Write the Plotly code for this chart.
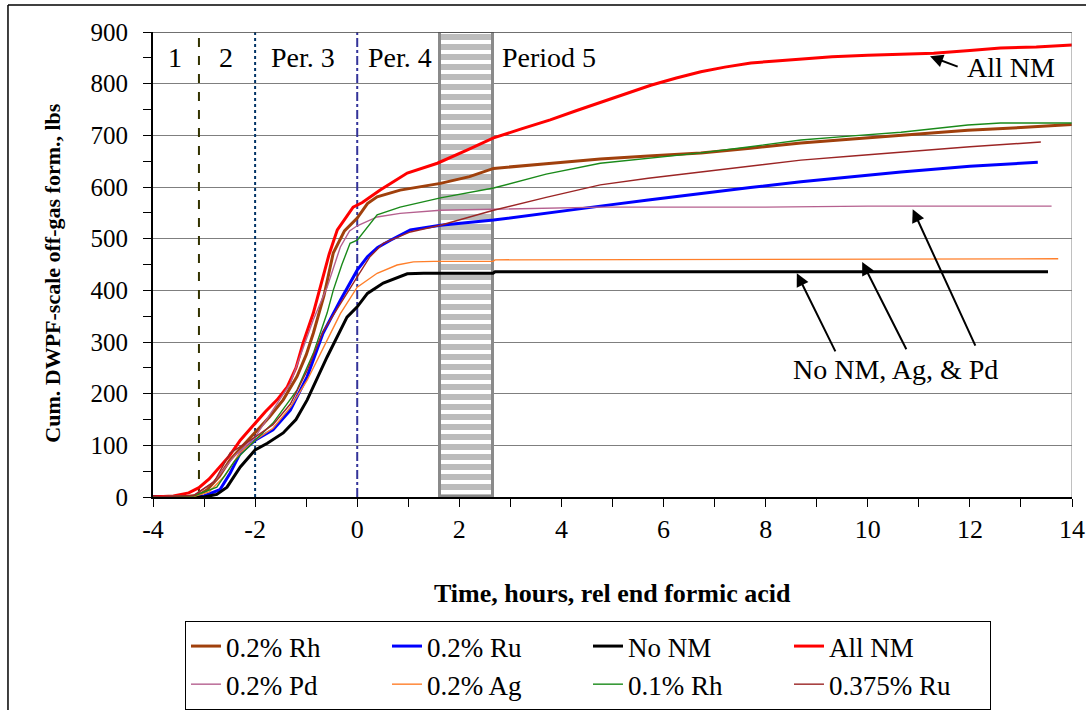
import plotly.graph_objects as go

# ---------------- data ----------------
t_allnm = [-4.0, -3.6, -3.3, -3.1, -2.9, -2.69, -2.5, -2.29, -2.0, -1.8, -1.57, -1.37, -1.2, -1.06, -0.86, -0.73,
           -0.55, -0.39, -0.2, -0.08, 0.1, 0.45, 0.98, 1.57, 2.16, 2.67, 3.2, 3.78, 4.3, 4.76, 5.25, 5.75, 6.25,
           6.73, 7.2, 7.71, 8.2, 8.69, 9.3, 10.0, 10.6, 11.29, 12.0, 12.6, 13.3, 14.0]
y_allnm = [0, 2, 8, 18, 35, 58, 80, 110, 143, 165, 188, 213, 250, 298, 356, 406,
           470, 517, 545, 561, 570, 594, 627, 646, 672, 695, 712, 730, 748, 764, 781, 797, 811,
           823, 832, 840, 844, 848, 852, 855, 857, 859, 864, 869, 871, 875]

t_rh02 = [-4.0, -3.41, -3.1, -2.94, -2.7, -2.49, -2.25, -2.0, -1.72, -1.45, -1.18, -1.0, -0.86, -0.65, -0.47,
          -0.25, 0.0, 0.2, 0.39, 0.84, 1.63, 2.2, 2.67, 3.7, 4.76, 5.7, 6.73, 7.7, 8.69, 9.7, 10.65, 11.96, 13.0, 14.0]
y_rh02 = [0, 0, 4, 14, 40, 72, 98, 124, 155, 188, 233, 275, 317, 390, 472,
          515, 540, 568, 581, 594, 607, 620, 636, 645, 654, 660, 666, 675, 685, 693, 700, 710, 715, 721]

t_ru02 = [-4.0, -3.3, -3.0, -2.69, -2.49, -2.29, -2.0, -1.65, -1.31, -0.98, -0.67, -0.33, 0.0, 0.2, 0.4, 0.65,
          1.04, 1.63, 2.67, 3.7, 4.76, 5.7, 6.73, 7.7, 8.69, 9.7, 10.65, 12.0, 13.33]
y_ru02 = [0, 0, 2, 14, 46, 85, 110, 130, 168, 233, 317, 381, 439, 465, 483, 497,
          517, 526, 536, 550, 563, 575, 588, 599, 610, 620, 629, 640, 648]

t_nonm = [-4.0, -3.0, -2.75, -2.55, -2.29, -2.0, -1.76, -1.45, -1.2, -0.98, -0.59, -0.2, 0.0, 0.2, 0.51, 0.98,
          1.3, 2.66, 2.7, 13.53]
y_nonm = [0, 0, 5, 19, 58, 91, 104, 124, 150, 188, 271, 348, 368, 394, 414, 432,
          433, 433, 436, 436]

t_pd02 = [-4.0, -3.2, -2.8, -2.4, -2.0, -1.65, -1.31, -0.86, -0.59, -0.33, -0.15, 0.0, 0.39, 0.84, 1.63, 2.67,
          4.76, 8.0, 10.0, 13.6]
y_pd02 = [0, 3, 30, 80, 116, 168, 220, 343, 406, 484, 515, 525, 542, 549, 555, 557,
          561, 561, 563, 563]

t_ag02 = [-4.0, -3.2, -2.9, -2.6, -2.3, -2.0, -1.65, -1.3, -0.98, -0.66, -0.33, 0.0, 0.39, 0.78, 1.1, 1.5,
          2.66, 2.7, 13.73]
y_ag02 = [0, 1, 10, 40, 85, 110, 133, 175, 226, 290, 355, 406, 433, 449, 455, 456,
          456, 459, 461]

t_rh01 = [-4.0, -3.2, -2.75, -2.4, -2.0, -1.65, -1.18, -0.86, -0.59, -0.47, -0.3, -0.14, 0.0, 0.2, 0.39, 0.84,
          1.63, 2.67, 3.7, 4.76, 5.7, 6.73, 7.7, 8.69, 9.7, 10.65, 11.96, 12.6, 14.0]
y_rh01 = [0, 2, 19, 70, 110, 143, 207, 278, 356, 400, 450, 491, 497, 523, 546, 561,
          579, 598, 625, 646, 656, 666, 678, 691, 699, 706, 720, 724, 724]

t_ru0375 = [-4.0, -3.2, -2.8, -2.49, -2.0, -1.65, -1.31, -0.98, -0.67, -0.33, 0.0, 0.25, 0.51, 1.04, 1.63, 2.67,
            3.7, 4.76, 5.7, 6.73, 7.7, 8.69, 9.7, 10.65, 12.0, 13.39]
y_ru0375 = [0, 3, 30, 85, 116, 140, 180, 245, 320, 375, 426, 465, 491, 513, 526, 555,
            580, 604, 617, 629, 641, 652, 660, 668, 678, 687]

series_names = ["0.2% Rh", "0.2% Ru", "No NM", "All NM", "0.2% Pd", "0.2% Ag", "0.1% Rh", "0.375% Ru"]
series_t = [t_rh02, t_ru02, t_nonm, t_allnm, t_pd02, t_ag02, t_rh01, t_ru0375]
series_y = [y_rh02, y_ru02, y_nonm, y_allnm, y_pd02, y_ag02, y_rh01, y_ru0375]

period_bounds = [-3.1, -2.0, 0.0]          # vertical period lines
shaded_start, shaded_end = 1.63, 2.66       # hatched period
period_labels = ["1", "2", "Per. 3", "Per. 4", "Period 5"]
period_label_x = [-3.56, -2.58, -1.06, 0.84, 3.75]

x_ticks = [-4, -2, 0, 2, 4, 6, 8, 10, 12, 14]
y_ticks = [0, 100, 200, 300, 400, 500, 600, 700, 800, 900]

# ---------------- styles ----------------
colors = ["#A0400C", "#0000FF", "#000000", "#FF0000", "#B5608F", "#FF7F2A", "#1A8A1A", "#9B2525"]
widths = [3, 3, 3, 3, 1.4, 1.4, 1.4, 1.4]
FONT = "Liberation Serif, Times New Roman, serif"

fig = go.Figure()

# hatched block (period between 4 and 5)
fig.add_trace(go.Bar(
    x=[(shaded_start + shaded_end) / 2], y=[900], base=0, width=shaded_end - shaded_start,
    marker=dict(color="white", line=dict(color="#8A8A8A", width=3),
                pattern=dict(shape="-", fgcolor="#7A7A7A", bgcolor="white", size=10, solidity=0.6)),
    showlegend=False, hoverinfo="skip"))

for name, tx, ty, c, w in zip(series_names, series_t, series_y, colors, widths):
    fig.add_trace(go.Scatter(x=tx, y=ty, mode="lines", name=name,
                             line=dict(color=c, width=w)))

shapes = []
# period boundary lines
styles = [("#333300", "dash"), ("#003366", "dot"), ("#333399", "dashdot")]
for xb, (c, d) in zip(period_bounds, styles):
    shapes.append(dict(type="line", xref="x", yref="y", x0=xb, x1=xb, y0=0, y1=900,
                       line=dict(color=c, width=2, dash=d), layer="between"))
# plot-area border (top, right)
shapes.append(dict(type="line", xref="x", yref="y", x0=-4, x1=14, y0=900, y1=900,
                   line=dict(color="#404040", width=1.5)))
shapes.append(dict(type="line", xref="x", yref="y", x0=14, x1=14, y0=0, y1=900,
                   line=dict(color="#808080", width=1)))
# outer chart frame (left & top visible)
shapes.append(dict(type="line", xref="paper", yref="paper", x0=-0.1578, x1=-0.1578, y0=1.058, y1=-0.47,
                   line=dict(color="#000000", width=1.5)))
shapes.append(dict(type="line", xref="paper", yref="paper", x0=-0.1578, x1=1.03, y0=1.058, y1=1.058,
                   line=dict(color="#000000", width=1.5)))

annotations = []
for lab, lx in zip(period_labels, period_label_x):
    annotations.append(dict(x=lx, y=851, xref="x", yref="y", text=lab, showarrow=False,
                            font=dict(family=FONT, size=28, color="black")))

annotations.append(dict(x=12.8, y=832, xref="x", yref="y", text="All NM", showarrow=False,
                        font=dict(family=FONT, size=28, color="black")))
annotations.append(dict(x=11.22, y=853, ax=11.79, ay=832, xref="x", yref="y", axref="x", ayref="y",
                        text="", showarrow=True, arrowhead=2, arrowsize=1.3, arrowwidth=2, arrowcolor="black"))

annotations.append(dict(x=10.54, y=246, xref="x", yref="y", text="No NM, Ag, &amp; Pd", showarrow=False,
                        font=dict(family=FONT, size=28, color="black")))
for hx, hy, tx_, ty_ in [(8.61, 433, 9.38, 279), (9.89, 455, 10.77, 283), (10.88, 557, 12.12, 290)]:
    annotations.append(dict(x=hx, y=hy, ax=tx_, ay=ty_, xref="x", yref="y", axref="x", ayref="y",
                            text="", showarrow=True, arrowhead=2, arrowsize=1.3, arrowwidth=2,
                            arrowcolor="black"))

# axis titles
annotations.append(dict(x=0.5, y=-0.207, xref="paper", yref="paper", xanchor="center", yanchor="middle",
                        text="<b>Time, hours, rel end formic acid</b>", showarrow=False,
                        font=dict(family=FONT, size=26, color="black")))
annotations.append(dict(x=-0.109, y=0.482, xref="paper", yref="paper", xanchor="center", yanchor="middle",
                        text="<b>Cum. DWPF-scale off-gas form., lbs</b>", showarrow=False, textangle=-90,
                        font=dict(family=FONT, size=22, color="black")))

fig.update_layout(
    width=1086, height=710,
    margin=dict(l=153, r=14, t=32, b=213, autoexpand=False),
    paper_bgcolor="white", plot_bgcolor="white",
    font=dict(family=FONT, size=26, color="black"),
    showlegend=True,
    legend=dict(orientation="h", x=0.0348, y=-0.2667, xanchor="left", yanchor="top",
                bordercolor="black", borderwidth=1, bgcolor="white",
                font=dict(family=FONT, size=27, color="black"),
                entrywidth=156, entrywidthmode="pixels", traceorder="normal"),
    shapes=shapes, annotations=annotations,
    bargap=0,
)
fig.update_xaxes(range=[-4, 14], tickvals=x_ticks, ticktext=[str(v) for v in x_ticks], automargin=False,
                 showgrid=False, zeroline=False, showline=True, linecolor="black", linewidth=2,
                 ticks="outside", ticklen=8, tickcolor="black", tickwidth=1,
                 minor=dict(dtick=1, ticks="outside", ticklen=8, tickcolor="black"),
                 tickfont=dict(family=FONT, size=26))
fig.update_yaxes(range=[0, 900], tickvals=y_ticks, ticktext=[str(v) for v in y_ticks], automargin=False,
                 showgrid=True, gridcolor="#7F7F7F", gridwidth=1, zeroline=False,
                 showline=True, linecolor="black", linewidth=2,
                 ticks="outside", ticklen=8, tickcolor="black", tickwidth=1, ticklabelstandoff=10,
                 minor=dict(dtick=50, ticks="outside", ticklen=8, tickcolor="black", showgrid=False),
                 tickfont=dict(family=FONT, size=25))

# place the figure at the page's top-left corner (no default body margin, no scrollbars)
fig.write_html("out.html", config={"displayModeBar": False},
               post_script="document.body.style.margin='0px';document.body.style.overflow='hidden';")
